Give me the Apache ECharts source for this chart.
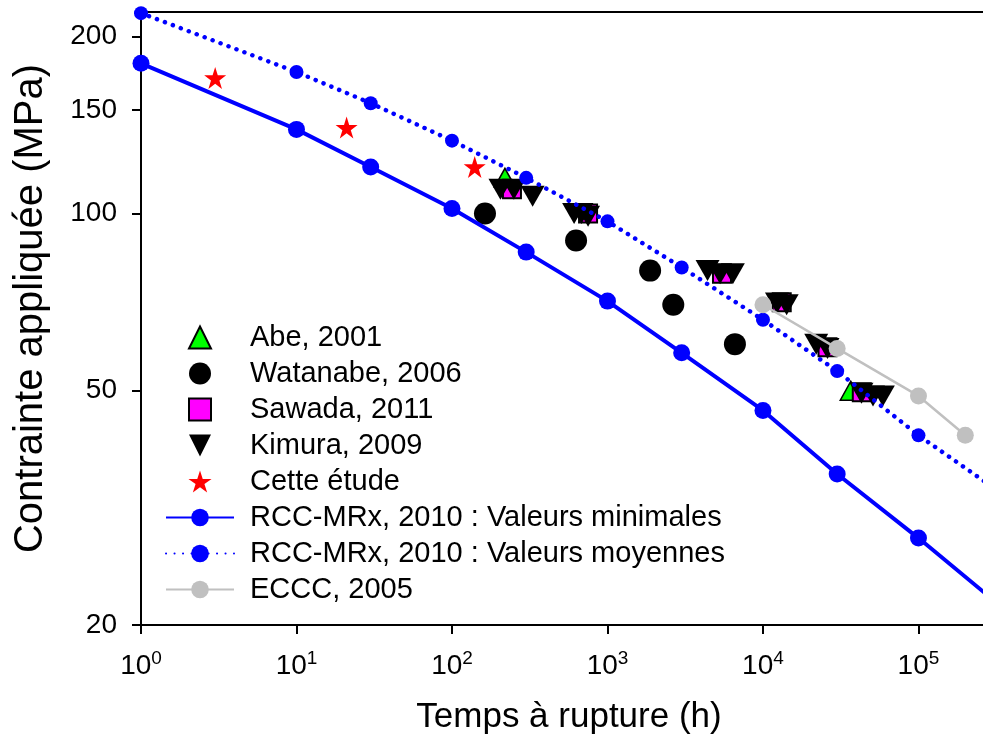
<!DOCTYPE html>
<html><head><meta charset="utf-8">
<script src="https://cdn.jsdelivr.net/npm/echarts@6/dist/echarts.min.js"></script>
<style>html,body{margin:0;padding:0;background:#fff}#c{width:983px;height:742px}</style>
</head><body><div id="c"></div><script>
// ---- data ----
const yTicks = [20, 50, 100, 150, 200];

const abeTime = [219, 36700];
const abeStress = [115, 50];

const watanabeTime = [163, 628, 1880, 2650, 6600];
const watanabeStress = [100, 90, 80, 70, 60];

const sawadaTime = [243, 750, 5450, 13200, 26000, 43200];
const sawadaStress = [110, 100, 79, 70.7, 59.3, 49.7];

const kimuraTime = [205, 250, 330, 610, 680, 750, 4400, 5300, 6400, 12300, 14200, 22000, 26000, 43000, 51000, 59000];
const kimuraStress = [110, 110, 107, 100, 100, 99, 80, 79, 79, 70.5, 70, 60, 59, 49.5, 49, 49];

const etudeTime = [3, 21, 140];
const etudeStress = [170, 140, 120];

const rccTime = [1, 10, 30, 100, 300, 1000, 3000, 10000, 30000, 100000, 300000];
const rccMinStress = [180, 139, 120, 102, 86, 71, 58, 46.3, 36.1, 28.1, 22.1];
const rccMoyStress = [219, 174, 154, 133, 115, 97, 81, 66, 54, 42, 34.3];

const ecccTime = [10000, 30000, 100000, 200000];
const ecccStress = [70, 59, 49, 42];

// ---- chart ----
const FONT = "'Liberation Sans', Arial, sans-serif";
const pairs = (xs, ys) => xs.map((x, i) => [x, ys[i]]);
const lineData = (xs, ys) => xs.map((x, i) => i === xs.length - 1 ? { value: [x, ys[i]], symbol: 'none' } : [x, ys[i]]);
const star = 'path://M50,0 L61.2,34.5 L97.6,34.5 L68.2,55.9 L79.4,90.5 L50,69.1 L20.6,90.5 L31.8,55.9 L2.4,34.5 L38.8,34.5 Z';
const triUp = 'path://M50,0 L100,100 L0,100 Z';
const triDown = 'path://M0,0 L100,0 L50,100 Z';
const square = 'path://M0,0 L100,0 L100,100 L0,100 Z';

const chart = echarts.init(document.getElementById('c'), null, { renderer: 'canvas' });
chart.setOption({
  animation: false,
  backgroundColor: '#fff',
  grid: { left: 141, right: 0, top: 12, bottom: 117, containLabel: false, outerBoundsMode: 'none' },
  legend: {
    orient: 'vertical', left: 165, top: 323, padding: 0, itemWidth: 68, itemHeight: 22, itemGap: 7,
    selectedMode: false, symbolKeepAspect: true,
    textStyle: { fontFamily: FONT, fontSize: 29, color: '#000', padding: [0, 0, 0, 11] },
    data: ['Abe, 2001', 'Watanabe, 2006', 'Sawada, 2011', 'Kimura, 2009', 'Cette étude',
      'RCC-MRx, 2010 : Valeurs minimales', 'RCC-MRx, 2010 : Valeurs moyennes', 'ECCC, 2005']
  },
  xAxis: [{
    type: 'log', logBase: 10, min: 1, max: 260000,
    name: 'Temps à rupture (h)', nameLocation: 'middle', nameGap: 75,
    nameTextStyle: { fontFamily: FONT, fontSize: 35, color: '#000', padding: [0, 0, 0, 14] },
    axisLine: { show: true, lineStyle: { color: '#000', width: 2 } },
    axisTick: { show: true, length: 9, lineStyle: { color: '#000', width: 2 } },
    minorTick: { show: false },
    splitLine: { show: false },
    axisLabel: {
      margin: 24, color: '#000', showMaxLabel: false,
      formatter: v => '{b|10}{s|' + Math.round(Math.log10(v)) + '}',
      rich: {
        b: { fontFamily: FONT, fontSize: 28, lineHeight: 34, color: '#000' },
        s: { fontFamily: FONT, fontSize: 19, lineHeight: 20, verticalAlign: 'top', color: '#000' }
      }
    }
  }, {
    type: 'log', logBase: 10, min: 1, max: 260000, position: 'top',
    axisLine: { show: true, lineStyle: { color: '#000', width: 2 } },
    axisTick: { show: false }, axisLabel: { show: false }, splitLine: { show: false }
  }],
  yAxis: {
    type: 'log', logBase: 10, min: 20, max: 220,
    name: 'Contrainte appliquée (MPa)', nameLocation: 'middle', nameGap: 90,
    nameTextStyle: { fontFamily: FONT, fontSize: 40, color: '#000', padding: [0, 0, 0, 20] },
    axisLine: { show: true, lineStyle: { color: '#000', width: 2 } },
    axisTick: { show: true, length: 9, lineStyle: { color: '#000', width: 2 }, customValues: yTicks },
    minorTick: { show: false },
    splitLine: { show: false },
    axisLabel: { margin: 24, fontFamily: FONT, fontSize: 28, color: '#000', customValues: yTicks }
  },
  series: [
    { name: 'Abe, 2001', type: 'scatter', data: pairs(abeTime, abeStress), symbol: triUp, symbolSize: [21, 19],
      itemStyle: { color: '#00FF00', borderColor: '#000', borderWidth: 1.5, opacity: 1 } },
    { name: 'Watanabe, 2006', type: 'scatter', data: pairs(watanabeTime, watanabeStress), symbol: 'circle', symbolSize: 22,
      itemStyle: { color: '#000', opacity: 1 } },
    { name: 'Sawada, 2011', type: 'scatter', data: pairs(sawadaTime, sawadaStress), symbol: square, symbolSize: 18,
      itemStyle: { color: '#FF00FF', borderColor: '#000', borderWidth: 2, opacity: 1 } },
    { name: 'Kimura, 2009', type: 'scatter', data: pairs(kimuraTime, kimuraStress), symbol: triDown, symbolSize: [24, 21],
      itemStyle: { color: '#000', opacity: 1 } },
    { name: 'Cette étude', type: 'scatter', data: pairs(etudeTime, etudeStress), symbol: star, symbolSize: 22,
      itemStyle: { color: '#FF0000', opacity: 1 } },
    { name: 'RCC-MRx, 2010 : Valeurs minimales', type: 'line', data: lineData(rccTime, rccMinStress),
      symbol: 'circle', symbolSize: 17, showAllSymbol: true,
      lineStyle: { color: '#0000FF', width: 4 }, itemStyle: { color: '#0000FF', borderWidth: 0 } },
    { name: 'RCC-MRx, 2010 : Valeurs moyennes', type: 'line', data: lineData(rccTime, rccMoyStress),
      symbol: 'circle', symbolSize: 14, showAllSymbol: true,
      lineStyle: { color: '#0000FF', width: 4.5, type: [0.1, 8.4], cap: 'round' }, itemStyle: { color: '#0000FF', borderWidth: 0 } },
    { name: 'ECCC, 2005', type: 'line', data: pairs(ecccTime, ecccStress),
      symbol: 'circle', symbolSize: 17, showAllSymbol: true,
      lineStyle: { color: '#C0C0C0', width: 2.5 }, itemStyle: { color: '#C0C0C0', borderWidth: 0 } }
  ]
});
</script></body></html>
